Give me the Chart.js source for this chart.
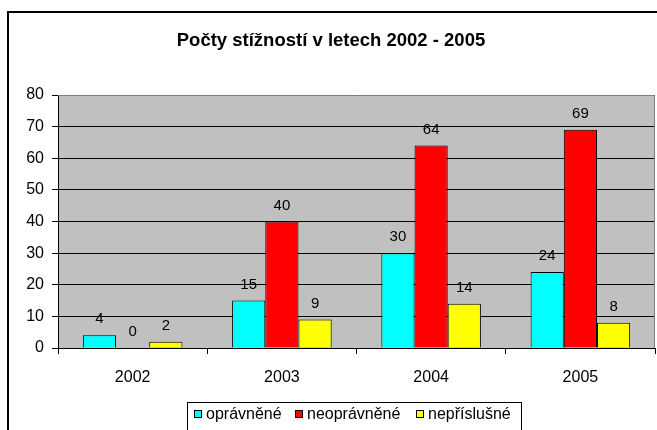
<!DOCTYPE html>
<html>
<head>
<meta charset="utf-8">
<script src="https://cdn.jsdelivr.net/npm/chart.js@4/dist/chart.umd.min.js"></script>
<style>
  html, body { margin: 0; padding: 0; background: #fff; overflow: hidden; }
  #frame {
    position: absolute; left: 7px; top: 11px;
    width: 700px; height: 500px;
    border: 2px solid #000;
  }
  #chart { position: absolute; left: 0; top: 0; }
</style>
</head>
<body>
<div id="frame"></div>
<canvas id="chart" width="657" height="430"></canvas>
<script>
/* data */
const years = ["2002", "2003", "2004", "2005"];
const opravnene = [4, 15, 30, 24];
const neopravnene = [0, 40, 64, 69];
const neprislusne = [2, 9, 14, 8];
const seriesNames = ["oprávněné", "neoprávněné", "nepříslušné"];
const seriesColors = ["#00FFFF", "#FF0000", "#FFFF00"];
const titleText = "Počty stížností v letech 2002 - 2005";

const FONT = "'Liberation Sans', Arial, sans-serif";

/* plot background + gray top/right border */
const plotBg = {
  id: "plotBg",
  beforeDraw(chart) {
    const { ctx, chartArea: a } = chart;
    ctx.save();
    ctx.fillStyle = "#C0C0C0";
    ctx.fillRect(a.left, a.top, a.right - a.left, a.bottom - a.top);
    ctx.restore();
  },
  beforeDatasetsDraw(chart) {
    const { ctx, chartArea: a } = chart;
    ctx.save();
    ctx.strokeStyle = "#808080";
    ctx.lineWidth = 1;
    ctx.beginPath();
    ctx.moveTo(a.left, a.top + 0.5);
    ctx.lineTo(a.right - 0.5, a.top + 0.5);
    ctx.lineTo(a.right - 0.5, a.bottom);
    ctx.stroke();
    ctx.restore();
  }
};

/* value labels above bars */
const valueLabels = {
  id: "valueLabels",
  afterDatasetsDraw(chart) {
    const ctx = chart.ctx;
    ctx.save();
    ctx.font = "15px " + FONT;
    ctx.fillStyle = "#000";
    ctx.textAlign = "center";
    ctx.textBaseline = "middle";
    chart.data.datasets.forEach((ds, i) => {
      chart.getDatasetMeta(i).data.forEach((bar, j) => {
        ctx.fillText(String(ds.data[j]), bar.x, bar.y - 16);
      });
    });
    ctx.restore();
  }
};

/* title + boxed legend */
const titleLegend = {
  id: "titleLegend",
  afterDraw(chart) {
    const ctx = chart.ctx;
    ctx.save();
    ctx.fillStyle = "#000";
    ctx.font = "bold 18.5px " + FONT;
    ctx.textAlign = "center";
    ctx.textBaseline = "middle";
    ctx.fillText(titleText, 331, 41);

    // legend box
    ctx.strokeStyle = "#000";
    ctx.lineWidth = 1;
    ctx.strokeRect(187.5, 402.5, 334, 40);

    ctx.font = "16px " + FONT;
    ctx.textAlign = "left";
    ctx.textBaseline = "alphabetic";
    const starts = [194, 295, 416];
    chart.data.datasets.forEach((ds, i) => {
      const x = starts[i];
      ctx.fillStyle = ds.backgroundColor;
      ctx.fillRect(x, 410, 7, 7);
      ctx.strokeRect(x + 0.5, 410.5, 7, 7);
      ctx.fillStyle = "#000";
      ctx.fillText(ds.label, x + 12, 419);
    });
    ctx.restore();
  }
};

new Chart(document.getElementById("chart"), {
  type: "bar",
  data: {
    labels: years,
    datasets: [
      { label: seriesNames[0], data: opravnene, backgroundColor: seriesColors[0] },
      { label: seriesNames[1], data: neopravnene, backgroundColor: seriesColors[1] },
      { label: seriesNames[2], data: neprislusne, backgroundColor: seriesColors[2] }
    ].map(d => Object.assign(d, {
      borderColor: "#000",
      borderWidth: 1,
      borderSkipped: "bottom",
      categoryPercentage: 0.667,
      barPercentage: 1
    }))
  },
  options: {
    responsive: false,
    animation: false,
    devicePixelRatio: 1,
    layout: { padding: { top: 95, right: 2, left: 0, bottom: 0 } },
    plugins: {
      legend: { display: false },
      title: { display: false },
      tooltip: { enabled: false }
    },
    scales: {
      x: {
        afterFit(scale) { scale.height = 82; },
        grid: {
          drawOnChartArea: false,
          color: "#000",
          tickLength: 6,
          offset: true
        },
        border: { display: true, color: "#000", width: 1 },
        ticks: {
          color: "#000",
          padding: 14,
          font: { family: FONT, size: 16 }
        }
      },
      y: {
        min: 0,
        max: 80,
        afterFit(scale) { scale.width = 58; },
        grid: { color: "#000", tickLength: 6 },
        border: { display: true, color: "#000", width: 1 },
        ticks: {
          stepSize: 10,
          color: "#000",
          padding: 8,
          font: { family: FONT, size: 16 }
        }
      }
    }
  },
  plugins: [plotBg, valueLabels, titleLegend]
});
</script>
</body>
</html>
